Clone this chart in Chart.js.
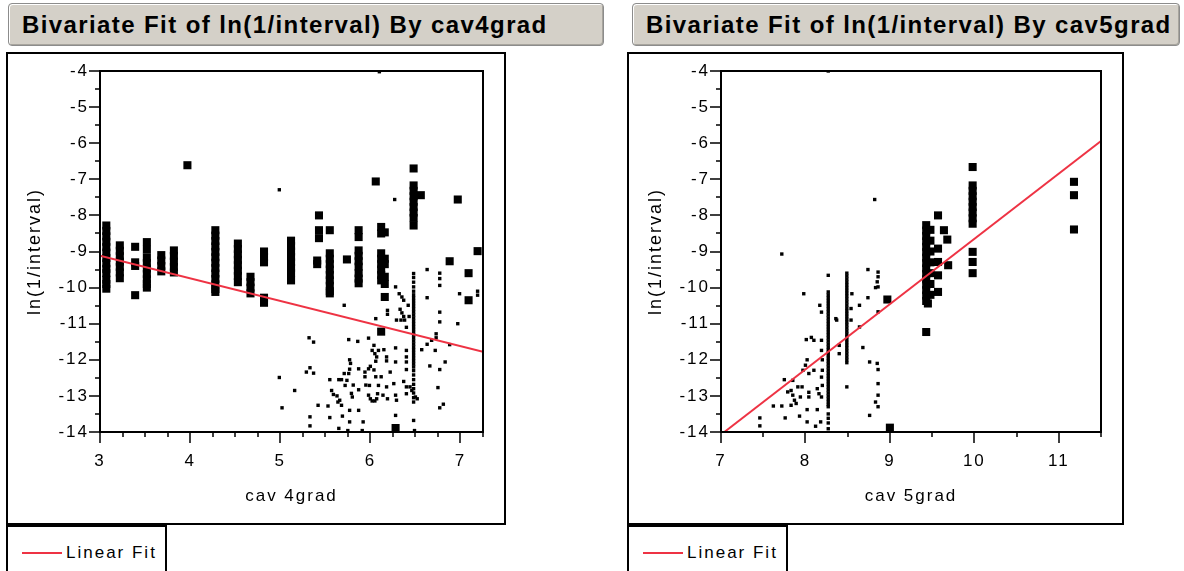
<!DOCTYPE html>
<html>
<head>
<meta charset="utf-8">
<script src="https://cdn.jsdelivr.net/npm/chart.js@4.4.1/dist/chart.umd.min.js"></script>
<style>
  body { margin: 0; background: #fff; width: 1184px; height: 571px; overflow: hidden; position: relative;
         font-family: "Liberation Sans", Arial, sans-serif; color: #000; }
  .title { position: absolute; top: 3px; height: 43px; box-sizing: border-box; background: #d4d0c8;
           border: 1px solid #8c8c8c; border-radius: 4px; box-shadow: inset 1px 1px 0 #fff, inset -1px -1px 0 #a8a59e;
           font-weight: bold; font-size: 24px; letter-spacing: 1.4px; line-height: 41px; padding-left: 13px; white-space: nowrap; }
  .frame { position: absolute; top: 52px; height: 473px; border: 2px solid #000; box-sizing: border-box; }
  .plot { position: absolute; top: 54px; height: 468px; }
  .legend { position: absolute; top: 525px; height: 70px; border: 2px solid #000; box-sizing: border-box; }
  .legend .swatch { position: absolute; left: 14px; top: 25px; width: 40px; height: 2px; background: #ee3344; }
  .legend .txt { position: absolute; left: 58px; top: 16px; font-size: 17px; line-height: 20px; letter-spacing: 2px; }
</style>
</head>
<body>
<div class="title" style="left:8px;width:596px;">Bivariate Fit of ln(1/interval) By cav4grad</div>
<div class="title" style="left:632px;width:548px;">Bivariate Fit of ln(1/interval) By cav5grad</div>

<div class="frame" style="left:6px;width:500px;"></div>
<div class="plot" style="left:8px;width:496px;"><canvas id="cav4"></canvas></div>
<div class="legend" style="left:6px;width:161px;"><span class="swatch"></span><span class="txt">Linear Fit</span></div>

<div class="frame" style="left:627px;width:497px;"></div>
<div class="plot" style="left:629px;width:493px;"><canvas id="cav5"></canvas></div>
<div class="legend" style="left:627px;width:161px;"><span class="swatch"></span><span class="txt">Linear Fit</span></div>

<script>
// tick positions (labels come from the integer ones)
const yTicks = [-14, -13.5, -13, -12.5, -12, -11.5, -11, -10.5, -10, -9.5, -9, -8.5, -8, -7.5, -7, -6.5, -6, -5.5, -5, -4.5, -4];
const cav4Ticks = [3, 3.25, 3.5, 3.75, 4, 4.25, 4.5, 4.75, 5, 5.25, 5.5, 5.75, 6, 6.25, 6.5, 6.75, 7, 7.25];
const cav5Ticks = [7, 7.5, 8, 8.5, 9, 9.5, 10, 10.5, 11, 11.5];

// cav4grad: big markers
const cav4Squares = [
  [3.07,-8.28],[3.07,-8.43],[3.07,-8.58],[3.07,-8.73],[3.07,-8.88],[3.07,-9.03],[3.07,-9.18],[3.07,-9.33],[3.07,-9.48],[3.07,-9.6],[3.07,-9.78],[3.07,-9.9],[3.07,-10.03],
  [3.22,-8.83],[3.22,-8.98],[3.22,-9.13],[3.22,-9.28],[3.22,-9.43],[3.22,-9.58],[3.22,-9.74],
  [3.39,-8.87],[3.39,-9.3],[3.39,-9.4],[3.39,-10.21],
  [3.52,-8.74],[3.52,-8.95],[3.52,-9.17],[3.52,-9.32],[3.52,-9.47],[3.52,-9.62],[3.52,-9.77],[3.52,-9.9],[3.52,-10.0],
  [3.68,-9.1],[3.68,-9.25],[3.68,-9.4],[3.68,-9.55],
  [3.82,-8.97],[3.82,-9.12],[3.82,-9.28],[3.82,-9.43],[3.82,-9.58],
  [3.97,-6.61],
  [4.28,-8.41],[4.28,-8.56],[4.28,-8.71],[4.28,-8.86],[4.28,-9.01],[4.28,-9.16],[4.28,-9.31],[4.28,-9.46],[4.28,-9.61],[4.28,-9.76],[4.28,-9.91],[4.28,-10.04],[4.28,-10.12],
  [4.53,-8.78],[4.53,-8.93],[4.53,-9.08],[4.53,-9.23],[4.53,-9.38],[4.53,-9.53],[4.53,-9.68],[4.53,-9.85],
  [4.67,-9.7],[4.67,-9.85],[4.67,-10.0],[4.67,-10.16],
  [4.82,-9.0],[4.82,-9.15],[4.82,-9.3],[4.82,-10.28],[4.82,-10.42],
  [5.12,-8.7],[5.12,-8.85],[5.12,-9.0],[5.12,-9.15],[5.12,-9.3],[5.12,-9.45],[5.12,-9.6],[5.12,-9.8],
  [5.41,-9.25],[5.41,-9.35],[5.43,-8.0],[5.43,-8.41],[5.43,-8.63],
  [5.55,-8.41],[5.55,-9.05],[5.55,-9.2],[5.55,-9.35],[5.55,-9.5],[5.55,-9.65],[5.55,-9.8],[5.55,-9.95],[5.55,-10.1],[5.55,-10.16],
  [5.74,-9.22],
  [5.87,-8.41],[5.87,-8.6],[5.87,-8.97],[5.87,-9.12],[5.87,-9.27],[5.87,-9.42],[5.87,-9.6],[5.87,-9.75],[5.87,-9.88],
  [6.06,-7.06],
  [6.12,-8.32],[6.12,-8.5],[6.12,-9.05],[6.12,-9.2],[6.12,-9.35],[6.12,-9.5],[6.12,-9.65],[6.12,-9.8],[6.16,-10.26],[6.12,-11.22],
  [6.16,-8.47],[6.16,-9.2],[6.16,-9.35],[6.16,-9.7],[6.16,-9.9],
  [6.48,-6.7],[6.48,-7.17],[6.48,-7.32],[6.48,-7.47],[6.48,-7.62],[6.48,-7.77],[6.48,-7.92],[6.48,-8.07],[6.48,-8.28],
  [6.56,-7.44],[6.97,-7.56],[7.19,-8.99],[6.88,-9.27],[7.09,-9.6],[7.09,-10.35],[6.28,-13.89]
];
// cav4grad: small markers
const cav4Dots = [
  [4.99,-7.29],[6.1,-4.02],[6.27,-7.56],
  [4.99,-12.49],[5.16,-12.85],[5.02,-13.33],[5.33,-13.58],[5.33,-13.83],
  [5.32,-11.39],[5.37,-11.51],[5.29,-12.34],[5.33,-12.22],[5.37,-12.37],
  [5.42,-13.26],[5.53,-13.28],[5.55,-13.6],[5.65,-13.9],[5.69,-13.56],[5.77,-13.4],[5.77,-13.72],[5.75,-13.96],[5.87,-13.4],[5.92,-13.72],[5.91,-13.96],
  [5.55,-12.55],[5.65,-12.55],[5.68,-12.55],[5.57,-12.85],[5.59,-12.96],[5.63,-13.0],[5.66,-13.12],[5.68,-13.26],[5.64,-13.17],
  [5.71,-10.49],[5.71,-12.38],[5.74,-12.57],[5.72,-12.71],
  [5.76,-11.44],[5.86,-11.49],[5.98,-11.4],
  [5.77,-12.0],[5.78,-12.1],[5.77,-12.26],[5.76,-12.38],[5.87,-12.25],
  [5.94,-12.34],[5.98,-12.25],[6.0,-12.18],[6.04,-12.28],
  [5.94,-12.47],[5.95,-12.7],[5.99,-12.71],[6.06,-12.47],[6.09,-12.71],[6.12,-12.47],
  [5.81,-12.7],[5.79,-12.93],[5.8,-13.03],[5.87,-12.83],
  [5.98,-12.98],[6.0,-13.08],[6.02,-13.14],[6.05,-13.14],[6.07,-13.08],
  [6.08,-12.94],[6.14,-12.98],[6.19,-13.08],
  [6.18,-12.75],[6.26,-12.66],[6.28,-12.98],[6.29,-13.12],[6.28,-13.54],
  [6.37,-12.6],[6.4,-12.75],[6.4,-12.94],
  [6.44,-12.75],[6.46,-12.85],[6.5,-13.03],[6.52,-13.08],
  [6.04,-11.6],[6.02,-11.74],[6.05,-11.83],[6.07,-11.92],[6.06,-12.04],[6.09,-11.74],
  [6.15,-11.72],[6.28,-11.67],[6.18,-11.92],[6.18,-12.03],
  [6.4,-11.74],[6.4,-11.92],[6.4,-12.06],[6.4,-12.27],
  [6.22,-12.34],[6.28,-12.06],
  [6.06,-10.86],[6.19,-10.63],[6.19,-10.74],
  [6.28,-9.98],[6.32,-10.17],[6.35,-10.26],[6.37,-10.35],
  [6.33,-10.6],[6.35,-10.7],[6.37,-10.8],[6.38,-10.9],[6.34,-10.9],[6.29,-10.9],
  [6.42,-10.49],[6.43,-10.8],[6.4,-11.1],
  [6.48,-9.61],[6.48,-9.72],[6.48,-9.85],[6.48,-9.98],[6.48,-10.1],[6.48,-10.2],[6.48,-10.28],[6.48,-10.36],[6.48,-10.44],[6.48,-10.52],
  [6.48,-10.6],[6.48,-10.68],[6.48,-10.76],[6.48,-10.84],[6.48,-10.92],[6.48,-11.0],[6.48,-11.08],[6.48,-11.16],[6.48,-11.24],[6.48,-11.32],
  [6.48,-11.4],[6.48,-11.48],[6.48,-11.56],[6.48,-11.64],[6.48,-11.72],[6.48,-11.8],[6.48,-11.88],[6.48,-11.96],[6.48,-12.04],[6.48,-12.12],
  [6.48,-12.2],[6.48,-12.3],[6.48,-12.42],[6.48,-12.55],[6.48,-12.68],[6.48,-12.8],[6.48,-12.92],[6.48,-13.05],[6.48,-13.17],
  [6.48,-13.68],[6.49,-13.96],
  [6.63,-9.5],[6.77,-9.6],[6.77,-9.75],[6.77,-9.94],
  [6.63,-10.28],[6.77,-10.68],[6.77,-10.95],[6.99,-10.17],[7.19,-10.1],[7.19,-10.21],[6.97,-11.0],
  [6.73,-11.28],[6.73,-11.39],[6.63,-11.57],[6.57,-11.72],[6.72,-11.74],[6.88,-11.58],[6.83,-12.06],[6.66,-12.17],[6.77,-12.27],
  [6.75,-12.77],[6.81,-13.23],[6.77,-13.33],[6.68,-11.46]
];
const cav4Fit = [[3, -9.12], [7.25, -11.78]];

// cav5grad: big markers
const cav5Squares = [
  [9.43,-8.27],[9.43,-8.42],[9.43,-8.57],[9.43,-8.72],[9.43,-8.87],[9.43,-9.02],[9.43,-9.17],[9.43,-9.32],[9.43,-9.47],[9.43,-9.62],
  [9.43,-9.77],[9.43,-9.92],[9.43,-10.07],[9.43,-10.22],[9.43,-10.37],[9.45,-10.44],
  [9.48,-8.4],[9.48,-8.7],[9.48,-9.0],[9.48,-9.3],[9.48,-9.6],[9.48,-9.9],[9.48,-10.2],
  [9.43,-11.23],
  [9.57,-8.0],[9.57,-8.92],[9.57,-9.29],[9.57,-9.66],[9.57,-10.12],
  [9.64,-8.41],[9.68,-8.67],[9.69,-9.38],
  [9.98,-6.66],[9.98,-7.17],[9.98,-7.32],[9.98,-7.47],[9.98,-7.62],[9.98,-7.77],[9.98,-7.92],[9.98,-8.08],[9.98,-8.23],[9.98,-9.01],[9.98,-9.29],[9.98,-9.6],
  [11.18,-7.07],[11.18,-7.44],[11.18,-8.39],
  [8.97,-10.33],[9.0,-13.88]
];
// cav5grad: small markers
const cav5Dots = [
  [8.27,-4.0],[8.82,-7.56],[7.72,-9.07],[7.98,-10.17],
  [8.27,-9.66],[8.27,-10.12],[8.27,-10.2],[8.27,-10.28],[8.27,-10.36],[8.27,-10.44],[8.27,-10.52],[8.27,-10.6],[8.27,-10.68],[8.27,-10.76],
  [8.27,-10.84],[8.27,-10.92],[8.27,-11.0],[8.27,-11.08],[8.27,-11.16],[8.27,-11.24],[8.27,-11.32],[8.27,-11.4],[8.27,-11.48],[8.27,-11.56],
  [8.27,-11.64],[8.27,-11.72],[8.27,-11.8],[8.27,-11.88],[8.27,-11.96],[8.27,-12.04],[8.27,-12.12],[8.27,-12.2],[8.27,-12.28],[8.27,-12.36],
  [8.27,-12.44],[8.27,-12.52],[8.27,-12.6],[8.27,-12.68],[8.27,-12.76],[8.27,-12.84],[8.27,-12.92],[8.27,-13.0],[8.27,-13.08],[8.27,-13.16],
  [8.27,-13.24],[8.27,-13.3],[8.27,-13.5],[8.27,-13.62],[8.27,-13.75],[8.27,-13.91],
  [8.19,-10.68],[8.17,-10.49],
  [8.19,-11.46],[8.19,-11.74],[8.2,-12.0],[8.2,-12.29],[8.19,-12.48],[8.2,-12.71],[8.19,-13.03],
  [8.1,-11.46],[8.07,-11.38],[8.01,-11.44],[8.02,-12.0],[8.0,-12.15],
  [7.97,-12.29],[8.04,-12.38],[8.1,-12.29],
  [7.85,-12.57],[7.75,-12.55],
  [7.83,-12.85],[7.79,-12.89],[7.85,-12.98],[7.87,-13.12],[7.89,-13.21],[7.83,-13.26],[7.91,-12.75],
  [7.96,-12.75],[7.94,-13.03],[8.04,-12.9],[8.04,-13.03],[8.14,-12.8],[8.16,-12.94],
  [7.62,-13.28],[7.72,-13.28],[7.46,-13.61],[7.46,-13.83],[7.76,-13.61],[7.93,-13.56],[8.02,-13.38],[8.02,-13.72],[8.12,-13.84],[8.18,-13.72],[8.14,-13.38],
  [8.49,-9.6],[8.49,-9.68],[8.49,-9.76],[8.49,-9.84],[8.49,-9.92],[8.49,-10.0],[8.49,-10.08],[8.49,-10.16],[8.49,-10.24],[8.49,-10.32],
  [8.49,-10.4],[8.49,-10.48],[8.49,-10.56],[8.49,-10.64],[8.49,-10.72],[8.49,-10.8],[8.49,-10.88],[8.49,-10.96],[8.49,-11.04],[8.49,-11.12],
  [8.49,-11.2],[8.49,-11.28],[8.49,-11.36],[8.49,-11.44],[8.49,-11.52],[8.49,-11.6],[8.49,-11.68],[8.49,-11.76],[8.49,-11.84],[8.49,-11.92],
  [8.49,-12.0],[8.49,-12.08],[8.49,-12.75],
  [8.55,-10.17],[8.54,-10.58],[8.54,-10.9],[8.36,-10.86],[8.37,-10.9],[8.4,-11.6],[8.4,-11.83],
  [8.64,-10.49],[8.64,-11.09],[8.68,-11.66],
  [8.74,-9.5],[8.74,-10.28],
  [8.86,-9.57],[8.86,-9.7],[8.85,-9.84],[8.86,-9.98],[8.83,-10.0],[8.86,-10.67],
  [8.76,-12.06],[8.85,-12.1],[8.86,-12.27],[8.86,-12.66],[8.86,-12.98],[8.83,-13.17],[8.86,-13.3],[8.76,-13.54]
];
const cav5Fit = [[7.04, -14], [11.5, -5.94]];

const FONT = '"Liberation Sans", Arial, sans-serif';
const toXY = arr => arr.map(p => ({ x: p[0], y: p[1] }));

// wider text spacing, like the JMP output
const spacedText = {
  id: 'spacedText',
  beforeDraw(chart) { chart.ctx.letterSpacing = '2px'; }
};

// outside tick marks (long on integers) and the box round the plot
const frameTicks = {
  id: 'frameTicks',
  afterDraw(chart, args, opts) {
    const ctx = chart.ctx, a = chart.chartArea;
    const xs = chart.scales.x, ys = chart.scales.y;
    ctx.save();
    ctx.strokeStyle = '#000';
    ctx.lineWidth = 1.5;
    ctx.beginPath();
    opts.xTicks.forEach(v => {
      const px = Math.round(xs.getPixelForValue(v));
      const len = Number.isInteger(v) ? 11 : 5;
      ctx.moveTo(px, a.bottom);
      ctx.lineTo(px, a.bottom + len);
    });
    opts.yTicks.forEach(v => {
      const py = Math.round(ys.getPixelForValue(v));
      const len = Number.isInteger(v) ? 11 : 5;
      ctx.moveTo(a.left, py);
      ctx.lineTo(a.left - len, py);
    });
    ctx.stroke();
    ctx.lineWidth = 2;
    ctx.strokeRect(a.left, a.top, a.right - a.left, a.bottom - a.top);
    ctx.restore();
  }
};

function makePanel(id, squares, dots, fit, xMin, xMax, xTicks, xTitle, padRight) {
  new Chart(document.getElementById(id), {
    type: 'scatter',
    data: {
      datasets: [
        {
          type: 'line',
          label: 'Linear Fit',
          data: toXY(fit),
          borderColor: '#ee3344',
          borderWidth: 2,
          pointRadius: 0,
          fill: false
        },
        {
          label: 'big',
          data: toXY(squares),
          pointStyle: 'rect',
          pointRadius: 5.7,
          borderWidth: 0,
          backgroundColor: '#000'
        },
        {
          label: 'small',
          data: toXY(dots),
          pointStyle: 'rect',
          pointRadius: 2.4,
          borderWidth: 0,
          backgroundColor: '#000'
        }
      ]
    },
    options: {
      responsive: true,
      maintainAspectRatio: false,
      animation: false,
      layout: { padding: { left: 0, right: padRight, top: 17, bottom: 0 } },
      plugins: {
        legend: { display: false },
        tooltip: { enabled: false },
        frameTicks: { xTicks: xTicks, yTicks: yTicks }
      },
      scales: {
        x: {
          type: 'linear',
          min: xMin,
          max: xMax,
          grid: { display: true, drawOnChartArea: false, tickLength: 11, color: 'rgba(0,0,0,0)' },
          border: { display: false },
          ticks: { stepSize: 1, includeBounds: false, padding: 8, color: '#000', font: { family: FONT, size: 17 } },
          title: { display: true, text: xTitle, color: '#000', font: { family: FONT, size: 17 }, padding: { top: 0, bottom: 15 } },
          afterFit: s => { s.height = 90; }
        },
        y: {
          type: 'linear',
          min: -14,
          max: -4,
          grid: { display: true, drawOnChartArea: false, tickLength: 11, color: 'rgba(0,0,0,0)' },
          border: { display: false },
          ticks: { stepSize: 1, padding: 0, color: '#000', font: { family: FONT, size: 17 } },
          title: { display: true, text: 'ln(1/interval)', color: '#000', font: { family: FONT, size: 18 }, padding: { top: 16, bottom: 0 } },
          afterFit: s => { s.width = 92; }
        }
      }
    },
    plugins: [spacedText, frameTicks]
  });
}

makePanel('cav4', cav4Squares, cav4Dots, cav4Fit, 3, 7.25, cav4Ticks, 'cav 4grad', 21);
makePanel('cav5', cav5Squares, cav5Dots, cav5Fit, 7, 11.5, cav5Ticks, 'cav 5grad', 21);
</script>
</body>
</html>
